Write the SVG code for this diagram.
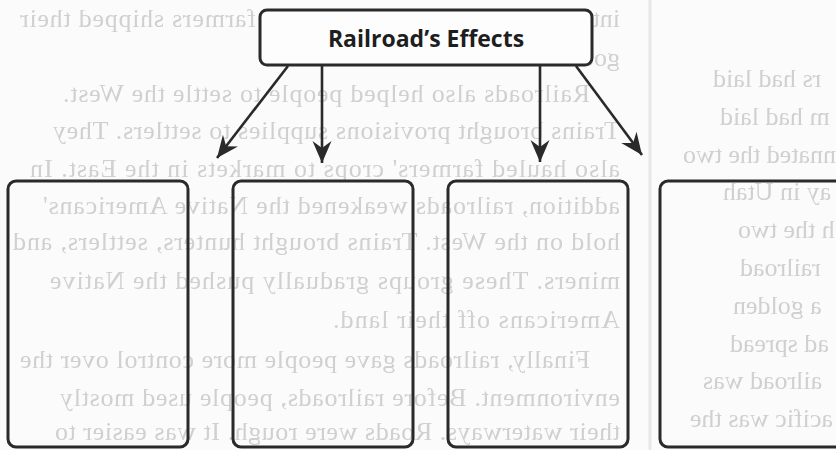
<svg xmlns="http://www.w3.org/2000/svg" width="836" height="450" viewBox="0 0 836 450">
  <defs>
    <style>
      .bg { font-family: "Liberation Serif", "Times New Roman", serif; font-size: 26px; fill: #d0d0d0; }
      .node { fill: none; stroke: #2a2a2a; stroke-width: 3; }
      .title { font-family: "Open Sans", "Liberation Sans", sans-serif; font-weight: 700; font-size: 23px; fill: #1e1e1e; }
      .conn { fill: none; stroke: #2a2a2a; stroke-width: 2.6; }
    </style>
    <filter id="soft" x="-5%" y="-5%" width="110%" height="110%">
      <feGaussianBlur stdDeviation="0.6"/>
    </filter>
    <marker id="arrow" markerUnits="userSpaceOnUse" viewBox="-23 -11 25 22" refX="0" refY="0" markerWidth="25" markerHeight="22" orient="auto">
      <path d="M0,0 L-22,-9.5 L-15,0 L-22,9.5 Z" fill="#2a2a2a"/>
    </marker>
  </defs>

  <rect x="0" y="0" width="836" height="450" fill="#fbfbfb"/>

  <!-- faint show-through page text (mirrored) -->
  <g id="page-text" filter="url(#soft)">
    <line x1="650" y1="0" x2="650" y2="450" stroke="#e8e8e8" stroke-width="3"/>
    <g transform="matrix(-1 0 0 1 656 0)" class="bg">
      <text x="36" y="27">into</text>
      <text x="400" y="27" textLength="236">farmers shipped their</text>
      <text x="36" y="66">goods west.</text>
      <text x="66" y="102" textLength="527">Railroads also helped people to settle the West.</text>
      <text x="36" y="139" textLength="567">Trains brought provisions supplies to settlers. They</text>
      <text x="36" y="177" textLength="590">also hauled farmers' crops to markets in the East. In</text>
      <text x="36" y="214" textLength="577">addition, railroads weakened the Native Americans'</text>
      <text x="36" y="250" textLength="607">hold on the West. Trains brought hunters, settlers, and</text>
      <text x="36" y="289" textLength="570">miners. These groups gradually pushed the Native</text>
      <text x="36" y="328" textLength="287">Americans off their land.</text>
      <text x="66" y="368" textLength="570">Finally, railroads gave people more control over the</text>
      <text x="36" y="406" textLength="560">environment. Before railroads, people used mostly</text>
      <text x="36" y="440" textLength="565">their waterways. Roads were rough. It was easier to</text>
      <text x="-57" y="87" text-anchor="end">rs had laid</text>
      <text x="-64" y="125" text-anchor="end">m had laid</text>
      <text x="-27" y="163" text-anchor="end">nnated the two</text>
      <text x="-67" y="200" text-anchor="end">ay in Utah</text>
      <text x="-82" y="238" text-anchor="end">h the two</text>
      <text x="-84" y="276" text-anchor="end">railroad</text>
      <text x="-77" y="314" text-anchor="end">a golden</text>
      <text x="-74" y="352" text-anchor="end">ad spread</text>
      <text x="-47" y="389" text-anchor="end">ailroad was</text>
      <text x="-34" y="427" text-anchor="end">acific was the</text>
    </g>
  </g>

  <g id="connectors">
    <line class="conn" x1="288" y1="66" x2="217" y2="158" marker-end="url(#arrow)"/>
    <line class="conn" x1="322" y1="66" x2="322" y2="163" marker-end="url(#arrow)"/>
    <line class="conn" x1="540" y1="66" x2="540" y2="162" marker-end="url(#arrow)"/>
    <line class="conn" x1="576" y1="66" x2="642" y2="155" marker-end="url(#arrow)"/>
  </g>

  <g id="node-railroads-effects">
    <rect x="260" y="10" width="332" height="55" rx="7" fill="#fdfdfd" stroke="#2a2a2a" stroke-width="3"/>
    <text class="title" x="426" y="47" text-anchor="middle">Railroad’s Effects</text>
  </g>
  <g id="node-effect-1">
    <rect class="node" x="8" y="181" width="180" height="266" rx="8"/>
  </g>
  <g id="node-effect-2">
    <rect class="node" x="233" y="181" width="180" height="266" rx="8"/>
  </g>
  <g id="node-effect-3">
    <rect class="node" x="448" y="181" width="180" height="266" rx="8"/>
  </g>
  <g id="node-effect-4">
    <rect class="node" x="660" y="181" width="200" height="266" rx="8"/>
  </g>
</svg>
